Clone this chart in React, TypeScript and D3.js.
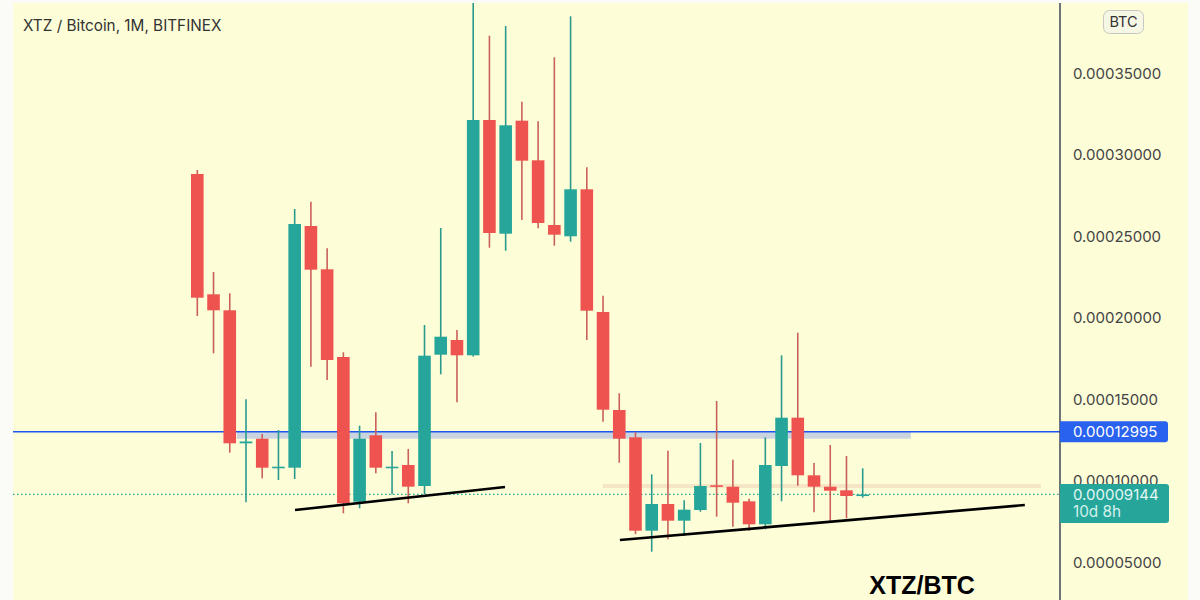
import React from 'react';
import * as d3 from 'd3';

// prices in satoshi (1e-8 BTC), one entry per monthly candle
const opens = [28804, 21423, 20442, 12282, 12565, 10785, 10785, 25614, 22957, 17577, 8699, 12773, 10785, 10951, 9663, 17718, 18620, 17681, 32117, 25141, 32074, 29644, 25675, 24982, 27865, 20338, 14325, 12650, 6920, 8558, 7534, 8190, 9706, 9620, 8724, 7313, 10890, 13853, 10319, 9620, 9399, 9068];
const highs = [29049, 22792, 21485, 14982, 12853, 13098, 26657, 27104, 24245, 17865, 13362, 14184, 11810, 11933, 19540, 25491, 19233, 39970, 37288, 37884, 33239, 32037, 35963, 38479, 29215, 21338, 15350, 12957, 10380, 11828, 8785, 12301, 14877, 11276, 8884, 12650, 17681, 19068, 11074, 12178, 11503, 10748];
const lows = [20092, 17804, 11706, 8663, 10135, 10031, 10092, 16982, 16166, 7988, 8294, 10442, 9153, 8601, 9172, 16515, 14798, 17600, 24282, 24098, 25982, 25472, 24405, 24650, 18620, 13607, 11092, 6718, 5632, 6393, 6595, 8086, 7779, 7166, 6920, 7006, 8724, 9681, 8049, 7436, 7681, 8945];
const closes = [21215, 20442, 12282, 12393, 10785, 10847, 25736, 22933, 17393, 8601, 12565, 10785, 10847, 9620, 17657, 18822, 17681, 32117, 25184, 31792, 29620, 25798, 25080, 27865, 20417, 14344, 12565, 6920, 8558, 7534, 8209, 9663, 9620, 8638, 7313, 10951, 13853, 10319, 9620, 9374, 9049, 9144];

const axisTicks = [35000, 30000, 25000, 20000, 15000, 10000, 5000];
const lastPrice = 9144;
const levelPrice = 12995;
const countdown = '10d 8h';

// drawn annotations as [candle index, price]
const trendLines: [number, number, number, number][] = [
  [6.02, 8190, 18.96, 9601],
  [26.04, 6350, 50.99, 8497],
];
const greyZone = [2.44, 43.97, 13000, 12565];
const orangeZone = [24.99, 51.98, 9785, 9540];

const RED = '#ef5350';
const TEAL = '#26a69a';
const BG = '#fdfdd8';
const FONT = 'Inter, "Noto Sans", sans-serif';

const App: React.FC = () => {
  const x = d3.scaleLinear().domain([0, 41]).range([197.3, 862.7]);
  const y = d3.scaleLinear().domain([5000, 35000]).range([562, 73]);
  const bodyW = 12.6;
  const fmt = (v: number) => (v / 1e8).toFixed(8);
  const line = d3.line<[number, number]>().x(d => x(d[0])).y(d => y(d[1]));

  return (
    <svg width={1200} height={600} style={{ position: 'fixed', left: 0, top: 0 }} fontFamily={FONT}>
      <defs>
        <clipPath id="pane">
          <rect x={13} y={3} width={1047} height={597} />
        </clipPath>
      </defs>
      <rect width={1200} height={600} fill="#fbfbf8" />
      <rect x={13} y={3} width={1175} height={597} fill={BG} />

      <g clipPath="url(#pane)">
        <rect x={x(greyZone[0])} y={y(greyZone[2])} width={x(greyZone[1]) - x(greyZone[0])} height={y(greyZone[3]) - y(greyZone[2])} fill="#c9d4de" />
        <rect x={x(orangeZone[0])} y={y(orangeZone[2])} width={x(orangeZone[1]) - x(orangeZone[0])} height={y(orangeZone[3]) - y(orangeZone[2])} fill="#f6e6c6" />
        <line x1={13} x2={1060} y1={y(levelPrice)} y2={y(levelPrice)} stroke="#1a56f0" strokeWidth={1.5} />
        <line x1={13} x2={1060} y1={y(lastPrice)} y2={y(lastPrice)} stroke={TEAL} strokeWidth={1.2} strokeDasharray="1.5 2.5" />

        {opens.map((o, i) => {
          const c = closes[i];
          const up = c >= o;
          const color = up ? TEAL : RED;
          const top = y(Math.max(o, c));
          const h = Math.max(y(Math.min(o, c)) - top, 1.6);
          return (
            <g key={i}>
              <line x1={x(i)} x2={x(i)} y1={y(highs[i])} y2={y(lows[i])} stroke={up ? '#2a9a8e' : '#c9605a'} strokeWidth={1.6} />
              <rect x={x(i) - bodyW / 2} y={top} width={bodyW} height={h} fill={color} />
            </g>
          );
        })}

        {trendLines.map((t, i) => (
          <path key={i} d={line([[t[0], t[1]], [t[2], t[3]]]) || ''} stroke="#000" strokeWidth={2.7} fill="none" />
        ))}
      </g>

      <text x={23} y={31} fontSize={15.3} fill="#333">XTZ / Bitcoin, 1M, BITFINEX</text>
      <text x={922} y={594} fontSize={25} fontWeight={700} fill="#000" textAnchor="middle" fontFamily='"Liberation Sans", Arial, sans-serif'>XTZ/BTC</text>

      <line x1={1060} x2={1060} y1={3} y2={600} stroke="#333a4c" strokeWidth={1.4} />
      {axisTicks.map(t => (
        <text key={t} x={1073} y={y(t) + 5.5} fontSize={15} fill="#444">{fmt(t)}</text>
      ))}

      <rect x={1103.5} y={10.5} width={40} height={23} rx={6} fill="#f7f7e6" stroke="#c8c8c0" />
      <text x={1123.5} y={27} fontSize={14.5} fill="#333" textAnchor="middle">BTC</text>

      <path d={`M1060,${y(levelPrice) - 10.5} H1165 a3,3 0 0 1 3,3 V${y(levelPrice) + 7.5} a3,3 0 0 1 -3,3 H1060 Z`} fill="#2962ef" />
      <text x={1073} y={y(levelPrice) + 5.5} fontSize={15} fill="#fff">{fmt(levelPrice)}</text>

      <path d={`M1060,${y(lastPrice) - 10.5} H1166 a3,3 0 0 1 3,3 V${y(lastPrice) + 25.5} a3,3 0 0 1 -3,3 H1060 Z`} fill={TEAL} />
      <text x={1073} y={y(lastPrice) + 5.5} fontSize={15} fill="#e4f7f4">{fmt(lastPrice)}</text>
      <text x={1073} y={y(lastPrice) + 23} fontSize={15.3} fill="#d2f0ec">{countdown}</text>
    </svg>
  );
};

export default App;
